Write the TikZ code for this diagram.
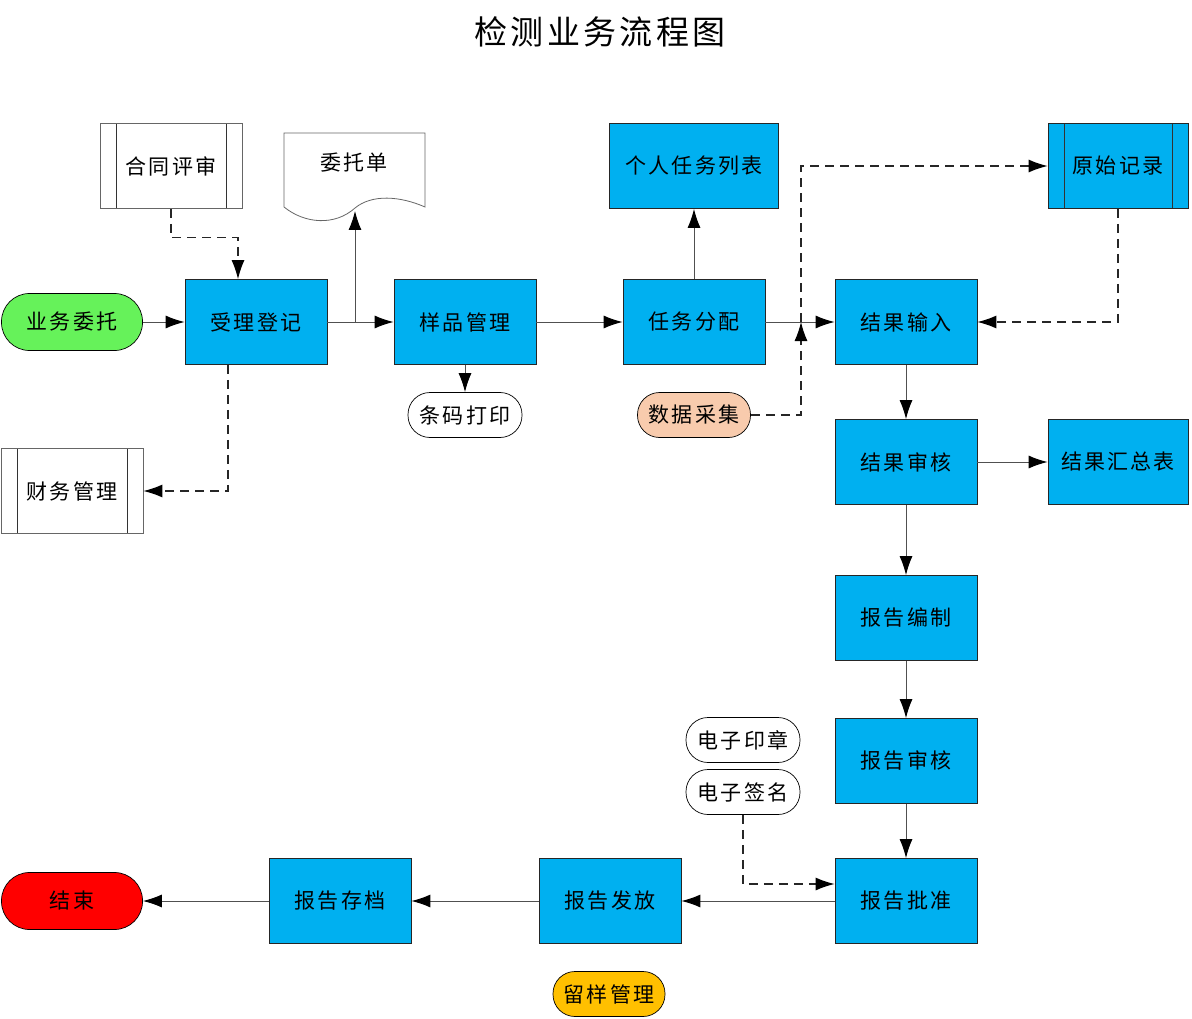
\documentclass[tikz,border=0pt]{standalone}
\usepackage{fontspec}
\setmainfont[LetterSpace=10]{Noto Sans CJK SC}
\usetikzlibrary{arrows.meta}
\definecolor{procblue}{HTML}{00B0F0}
\definecolor{startgreen}{HTML}{66F25A}
\definecolor{peach}{HTML}{F8CBAD}
\definecolor{amber}{HTML}{FFC000}
\definecolor{linegray}{HTML}{505050}
\tikzset{
  lbl/.style={font=\fontsize{21}{25}\selectfont, inner sep=0pt},
  proc/.style={lbl, draw=black!85, line width=0.8pt, fill=procblue, minimum width=142pt, minimum height=85pt},
  predef/.style={lbl, draw=black!60, line width=0.8pt, minimum width=142pt, minimum height=85pt,
    path picture={
      \draw[line width=0.8pt, draw=black!80] ([xshift=16pt]path picture bounding box.north west) -- ([xshift=16pt]path picture bounding box.south west);
      \draw[line width=0.8pt, draw=black!80] ([xshift=-16pt]path picture bounding box.north east) -- ([xshift=-16pt]path picture bounding box.south east);
    }},
  stad/.style={lbl, draw=black, line width=0.7pt, minimum width=114pt, minimum height=45pt, rounded corners=22pt},
  bigstad/.style={lbl, draw=black, line width=0.7pt, minimum width=141pt, minimum height=57pt, rounded corners=28pt},
  flow/.style={draw=linegray, line width=1pt, -{Latex[length=19pt,width=13pt,black]}},
  dflow/.style={draw=black!85, line width=1.1pt, dash pattern=on 9pt off 6pt, -{Latex[length=19pt,width=13pt,black]}},
}
\begin{document}
\begin{tikzpicture}[x=1pt,y=-1pt]
\useasboundingbox (0,0) rectangle (1192,1019);
% title
\node[font=\fontsize{33}{38}\selectfont, inner sep=0pt] (title) at (600,32) {检测业务流程图};

% nodes
\node[bigstad, fill=startgreen] (yw) at (72,322) {业务委托};
\node[proc] (sl) at (256,322) {受理登记};
\node[predef] (ht) at (171,166) {合同评审};
\node[predef] (cw) at (72,491) {财务管理};
\node[proc] (yp) at (465,322) {样品管理};
\node[stad, fill=white] (tm) at (465,415) {条码打印};
\node[proc] (rw) at (694,322) {任务分配};
\node[proc, minimum width=169pt] (gr) at (694,166) {个人任务列表};
\node[stad, fill=peach, minimum width=113pt] (sj) at (694,415) {数据采集};
\node[proc] (jg) at (906,322) {结果输入};
\node[predef, fill=procblue, draw=black!85, minimum width=140pt] (ys) at (1118,166) {原始记录};
\node[proc] (jsh) at (906,462) {结果审核};
\node[proc, minimum width=140pt] (hz) at (1118,462) {结果汇总表};
\node[proc] (bz) at (906,618) {报告编制};
\node[proc] (bsh) at (906,761) {报告审核};
\node[proc] (pz) at (906,901) {报告批准};
\node[stad, fill=white] (dy) at (743,740) {电子印章};
\node[stad, fill=white] (dq) at (743,792) {电子签名};
\node[proc] (ff) at (610,901) {报告发放};
\node[proc] (cd) at (340,901) {报告存档};
\node[bigstad, fill=red] (end) at (72,901) {结束};
\node[stad, fill=amber, minimum width=112pt] (ly) at (609,994) {留样管理};

% document shape 委托单
\draw[line width=0.8pt, draw=black!60, fill=white]
  (284,133) -- (425,133) -- (425,207)
  .. controls (400,196) and (372,194) .. (355,208)
  .. controls (335,226) and (305,224) .. (284,207) -- cycle;
\node[lbl] (wt) at (354,163) {委托单};
\coordinate (wtb) at (355,211);

% connectors
\coordinate (j1) at (355,322);
\coordinate (c801) at (801,322);
\draw[flow] (yw.east) -- (sl.west);
\draw[flow] (sl.east) -- (yp.west);
\draw[flow] (j1) -- (wtb);
\draw[flow] (yp.east) -- (rw.west);
\draw[flow] (yp.south) -- (tm.north);
\draw[flow] (rw.north) -- (gr.south);
\draw[flow] (rw.east) -- (jg.west);
\draw[dflow] (sj.east) -| (c801);
\draw[dflow] (c801) |- (ys.west);
\draw[dflow] (ys.south) |- (jg.east);
\draw[dflow] (ht.south) -- ++(0,29) -| ([xshift=-18pt]sl.north);
\draw[dflow] ([xshift=-28pt]sl.south) |- (cw.east);
\draw[flow] (jg.south) -- (jsh.north);
\draw[flow] (jsh.east) -- (hz.west);
\draw[flow] (jsh.south) -- (bz.north);
\draw[flow] (bz.south) -- (bsh.north);
\draw[flow] (bsh.south) -- (pz.north);
\draw[dflow] (dq.south) |- ([yshift=17pt]pz.west);
\draw[flow] (pz.west) -- (ff.east);
\draw[flow] (ff.west) -- (cd.east);
\draw[flow] (cd.west) -- (end.east);
\end{tikzpicture}
\end{document}
